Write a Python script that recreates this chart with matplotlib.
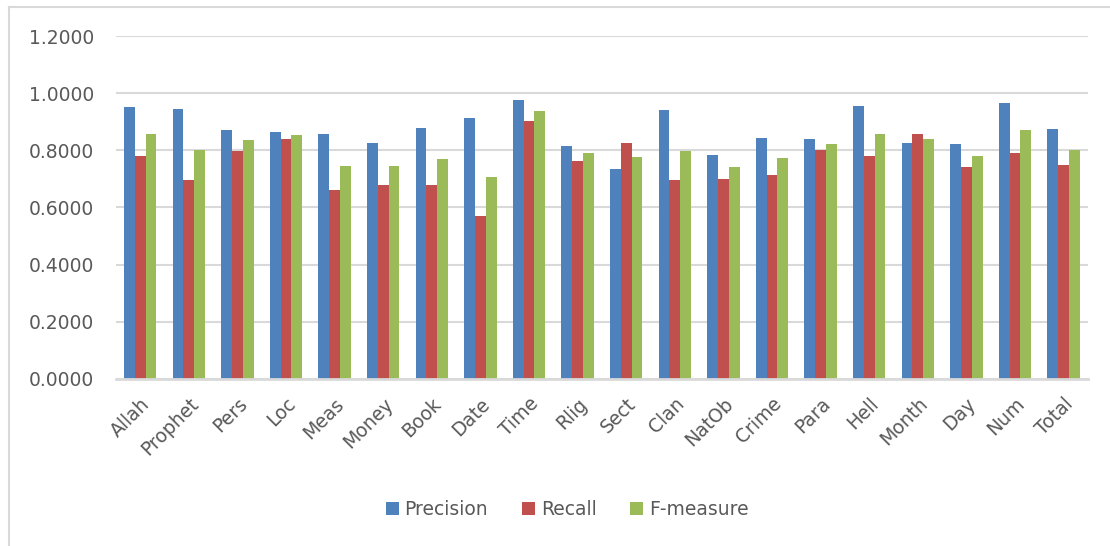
import numpy as np
import matplotlib.pyplot as plt
from matplotlib.patches import Patch
from matplotlib.lines import Line2D

categories = ['Allah', 'Prophet', 'Pers', 'Loc', 'Meas', 'Money', 'Book', 'Date', 'Time', 'Rlig',
              'Sect', 'Clan', 'NatOb', 'Crime', 'Para', 'Hell', 'Month', 'Day', 'Num', 'Total']
precision = [0.950, 0.945, 0.870, 0.865, 0.857, 0.826, 0.879, 0.914, 0.977, 0.816,
             0.736, 0.942, 0.785, 0.843, 0.839, 0.955, 0.826, 0.821, 0.964, 0.875]
recall = [0.780, 0.697, 0.799, 0.839, 0.661, 0.678, 0.678, 0.571, 0.901, 0.763,
          0.826, 0.697, 0.700, 0.713, 0.802, 0.780, 0.857, 0.741, 0.790, 0.749]
fmeasure = [0.857, 0.802, 0.835, 0.853, 0.745, 0.745, 0.768, 0.705, 0.937, 0.790,
            0.776, 0.799, 0.741, 0.772, 0.821, 0.857, 0.839, 0.780, 0.870, 0.802]
yticks = [0.0, 0.2, 0.4, 0.6, 0.8, 1.0, 1.2]

series = [('Precision', precision, '#4F81BD'),
          ('Recall', recall, '#C0504D'),
          ('F-measure', fmeasure, '#9BBB59')]

text_col = '#595959'
grid_col = '#D9D9D9'

fig = plt.figure(figsize=(11.1, 5.46), dpi=100)
ax = fig.add_axes([0.1045, 0.306, 0.8755, 0.628])

x = np.arange(len(categories))
w = 1 / 4.5
for i, (name, vals, col) in enumerate(series):
    ax.bar(x + (i - 1) * w, vals, width=w, color=col, zorder=3)

ax.set_xlim(-0.5, len(categories) - 0.5)
ax.set_ylim(0, 1.2)
ax.set_yticks(yticks)
ax.set_yticklabels(['%.4f' % v for v in yticks])
ax.set_xticks(x)
ax.set_xticklabels(categories, rotation=45, ha='right', rotation_mode='anchor')
ax.tick_params(axis='both', length=0, labelsize=13.5, colors=text_col)
ax.tick_params(axis='y', pad=16)
ax.tick_params(axis='x', pad=11)
ax.yaxis.grid(True, color=grid_col, linewidth=1.5, zorder=0)
for s in ['top', 'right', 'left']:
    ax.spines[s].set_visible(False)
ax.spines['bottom'].set_color(grid_col)
ax.spines['bottom'].set_linewidth(2)
ax.spines['bottom'].set_zorder(4)

handles = [Patch(facecolor=c, label=n) for n, _, c in series]
fig.legend(handles=handles, loc='center', bbox_to_anchor=(0.511, 0.066), ncol=3,
           frameon=False, fontsize=13.5, labelcolor=text_col, handlelength=0.7,
           handleheight=0.7, handletextpad=0.3, columnspacing=1.8)

# chart frame edges
fig.add_artist(Line2D([9 / 1110, 9 / 1110], [0, 1 - 7 / 546], color=grid_col, linewidth=1.5))
fig.add_artist(Line2D([9 / 1110, 1], [1 - 7 / 546, 1 - 7 / 546], color=grid_col, linewidth=1.5))

fig.savefig('out.png', dpi=100)
